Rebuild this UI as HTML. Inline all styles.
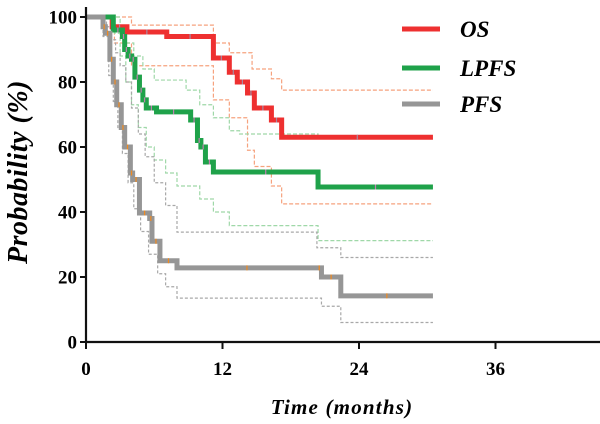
<!DOCTYPE html>
<html><head><meta charset="utf-8"><style>
html,body{margin:0;padding:0;background:#fff;width:600px;height:424px;overflow:hidden}
svg{display:block}
text{font-family:"Liberation Serif",serif;font-weight:bold}
</style></head><body>
<svg id="chart" width="600" height="424"></svg>
<script>
const xTicks=[0,12,24,36];
const yTicks=[0,20,40,60,80,100];
const osT=[0,2.3,3.6,7.1,11.2,12.6,13.3,14.2,14.8,16.3,17.2,30.5];
const osV=[100,97,95.4,94,87.4,83,80,76.6,72,68.3,63,63];
const osUpT=[0,4,11.2,12.6,14.6,16.3,17.2,30.5];
const osUpV=[100,97.5,92,89,84,81,77.5,77.5];
const osLoT=[0,2.5,4,7.1,11.2,12.6,14.2,14.8,16.3,17.2,30.5];
const osLoV=[100,92,85,85,74.5,69,59,54,48,42.5,42.5];
const lpT=[0,2.4,3.2,3.4,3.7,4,4.3,4.7,5,5.3,6.2,9.2,9.8,10.1,10.5,11.2,20.4,30.5];
const lpV=[100,96,94,90,88,87,81.5,77.5,74.5,72,70.8,68.3,62,60,55.4,52.3,47.7,47.7];
const lpUpT=[0,3,3.5,4.2,5,6,8.8,10,11.2,12.6,13.5,20.4,30.5];
const lpUpV=[100,97,92,88,84,80.6,77.5,73,69,65,64,62.5,62.5];
const lpLoT=[0,2.5,3,3.5,4,4.6,5.3,6,7,8,10,11.2,12.6,20.4,30.5];
const lpLoV=[100,95,88,80,73,66,60,56,52,48,44,40,35.8,31.2,31.2];
const pfT=[0,1.5,1.7,2.1,2.4,2.7,3.1,3.4,3.9,4.1,4.7,5.6,5.8,6.5,8,20.3,20.7,22.4,30.5];
const pfV=[100,97,95,87,80,73,66,60,52,50,39.7,38,31,25,22.8,22.8,20,14.2,14.2];
const pfUpT=[0,1.8,2.2,2.6,3,3.5,4,4.6,5.2,6,7,8,20.3,22.4,30.5];
const pfUpV=[100,97,93,89,85,80,72,64,57,49,42,33.8,29,26,26];
const pfLoT=[0,1.5,2,2.4,2.8,3.2,3.7,4.2,4.8,5.5,6.3,7,8,20.3,20.7,22.4,30.5];
const pfLoV=[100,94,82,74,66,58,49,41,34,27,21,17,13.5,13.5,11,6,6];

const NS="http://www.w3.org/2000/svg";
const svg=document.getElementById('chart');
const X=t=>86+t*(359-86)/24;
const Y=v=>342-v*3.25;
function mk(tag,attrs){const e=document.createElementNS(NS,tag);for(const k in attrs)e.setAttribute(k,attrs[k]);svg.appendChild(e);return e;}
function stepPath(ts,vs){let d=`M${X(ts[0])},${Y(vs[0])}`;for(let i=1;i<ts.length;i++){d+=` H${X(ts[i])} V${Y(vs[i])}`;}return d;}
function curve(ts,vs,color,w,dash,name){const p=mk('path',{d:stepPath(ts,vs),fill:'none',stroke:color,'stroke-width':w});if(dash)p.setAttribute('stroke-dasharray',dash);


return p;}
function ticksOn(ts,vs,color,name){for(let i=2;i<ts.length;i+=1){const x=(X(ts[i-1])+X(ts[i]))/2;const y=Y(vs[i-1]);const l=mk('line',{x1:x,x2:x,y1:y-2.5,y2:y+2.5,stroke:color,'stroke-width':1.2});

}}
curve(osUpT,osUpV,'#f6a27e',1.2,'4,2','os-ci-upper');
curve(osLoT,osLoV,'#f6a27e',1.2,'4,2','os-ci-lower');
curve(lpUpT,lpUpV,'#9fd8a8',1.2,'4,2','lpfs-ci-upper');
curve(lpLoT,lpLoV,'#9fd8a8',1.2,'4,2','lpfs-ci-lower');
curve(pfUpT,pfUpV,'#a8a8a8',1.2,'3,2','pfs-ci-upper');
curve(pfLoT,pfLoV,'#a8a8a8',1.2,'3,2','pfs-ci-lower');
curve(osT,osV,'#ee3030',5,null,'os-curve');ticksOn(osT,osV,'#a78aa0','os-censor-tick');
curve(lpT,lpV,'#1fa24a',5,null,'lpfs-curve');ticksOn(lpT,lpV,'#c080b0','lpfs-censor-tick');
curve(pfT,pfV,'#969696',5,null,'pfs-curve');ticksOn(pfT,pfV,'#f08a20','pfs-censor-tick');
let a=mk('line',{x1:86,x2:86,y1:7,y2:343,stroke:'#111','stroke-width':2.2});

a=mk('line',{x1:85,x2:600,y1:342,y2:342,stroke:'#111','stroke-width':2.2});

yTicks.forEach(v=>{const l=mk('line',{x1:80,x2:86,y1:Y(v),y2:Y(v),stroke:'#111','stroke-width':2});

const t=mk('text',{x:77,y:Y(v)+6.5,'text-anchor':'end','font-size':19});t.textContent=v;
});
xTicks.forEach(v=>{const l=mk('line',{x1:X(v),x2:X(v),y1:342,y2:349,stroke:'#111','stroke-width':2});

const t=mk('text',{x:X(v),y:375,'text-anchor':'middle','font-size':19});t.textContent=v;
});
let t=mk('text',{x:342,y:414,'text-anchor':'middle','font-size':21,'font-style':'italic','letter-spacing':'1.2'});t.textContent='Time (months)';

t=mk('text',{x:0,y:0,'text-anchor':'middle','font-size':28,'font-style':'italic','letter-spacing':'0.5',transform:'translate(27,172) rotate(-90)'});t.textContent='Probability (%)';

const legNames=['OS','LPFS','PFS'];const legCols=['#ee3030','#1fa24a','#969696'];const legY=[29,68,104];
legNames.forEach((n,i)=>{const l=mk('line',{x1:402,x2:440,y1:legY[i],y2:legY[i],stroke:legCols[i],'stroke-width':5});

const tx=mk('text',{x:460,y:legY[i]+8,'font-size':23,'font-style':'italic'});tx.textContent=n;
});
</script>
</body></html>
